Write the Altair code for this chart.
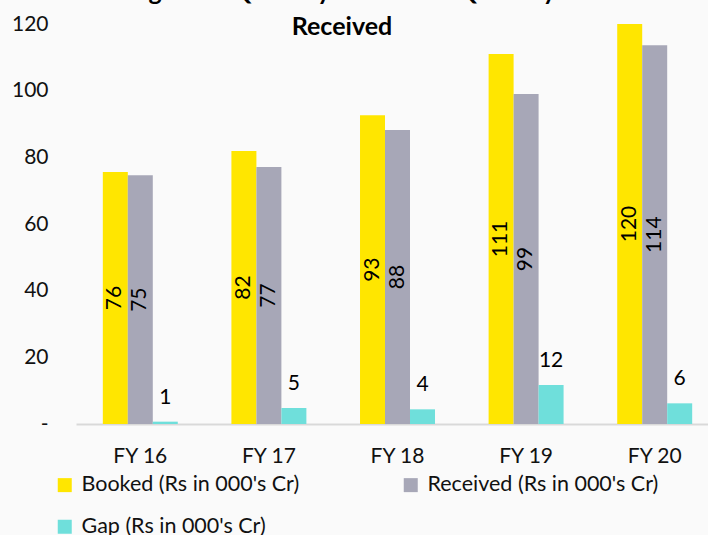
import altair as alt
import pandas as pd

years = ["FY 16", "FY 17", "FY 18", "FY 19", "FY 20"]
booked = [75.6, 81.9, 92.6, 111.0, 120.0]
received = [74.6, 77.1, 88.2, 99.0, 113.6]
gap = [0.7, 4.8, 4.4, 11.7, 6.2]
series = ["Booked (Rs in 000's Cr)", "Received (Rs in 000's Cr)", "Gap (Rs in 000's Cr)"]
colors = ["#FFE600", "#A7A7B7", "#6FDFDB"]
title_lines = ["Figure 3: Quantity Booked vs Quantity", "Received"]
y_ticks = [0, 20, 40, 60, 80, 100, 120]

rows = []
for i, yr in enumerate(years):
    for s, vals in zip(series, [booked, received, gap]):
        rows.append({"year": yr, "series": s, "value": vals[i], "half": vals[i] / 2})
df = pd.DataFrame(rows)

FONT = "Lato"
FS = 21

x_enc = alt.X("year:N", sort=years,
              scale=alt.Scale(range=[0, 643], paddingInner=0.417, paddingOuter=0.2085),
              axis=alt.Axis(title=None, labelAngle=0, ticks=False, domainColor="#D9D9D9",
                            domainWidth=2, labelFontSize=FS, labelFont=FONT,
                            labelColor="#111111", labelPadding=21))
xo_enc = alt.XOffset("series:N", sort=series, scale=alt.Scale(paddingInner=0, paddingOuter=0))

base = alt.Chart(df)

bars = base.mark_bar().encode(
    x=x_enc,
    xOffset=xo_enc,
    y=alt.Y("value:Q", scale=alt.Scale(domain=[0, 120], nice=False),
            axis=alt.Axis(title=None, values=y_ticks, grid=False, domain=False, ticks=False,
                          labelFontSize=FS, labelFont=FONT, labelColor="#111111",
                          labelPadding=28,
                          labelExpr="datum.value == 0 ? '-' : datum.label")),
    color=alt.Color("series:N", sort=series, scale=alt.Scale(domain=series, range=colors),
                    legend=alt.Legend(title=None, orient="none", legendX=-22, legendY=450,
                                      direction="horizontal", columns=2, columnPadding=100,
                                      rowPadding=19, symbolType="square", symbolSize=196,
                                      symbolStrokeWidth=0, labelFontSize=21.5, labelFont=FONT,
                                      labelColor="#111111", labelOffset=6, padding=0,
                                      labelLimit=400)),
)

rot_text = base.transform_filter(
    alt.FieldOneOfPredicate(field="series", oneOf=series[:2])
).mark_text(angle=270, align="center", baseline="middle", fontSize=FS, font=FONT,
            color="#000000").encode(
    x=alt.X("year:N", sort=years),
    xOffset=alt.XOffset("series:N", sort=series),
    y=alt.Y("half:Q"),
    text=alt.Text("value:Q", format=".0f"),
)

gap_text = base.transform_filter(
    alt.FieldEqualPredicate(field="series", equal=series[2])
).mark_text(align="center", baseline="alphabetic", dy=-18, fontSize=FS, font=FONT,
            color="#000000").encode(
    x=alt.X("year:N", sort=years),
    xOffset=alt.XOffset("series:N", sort=series),
    y=alt.Y("value:Q"),
    text=alt.Text("value:Q", format=".0f"),
)

t1 = alt.Chart(pd.DataFrame({"t": [title_lines[0]]})).mark_text(
    align="center", baseline="alphabetic", fontSize=25, fontWeight="bold", font=FONT,
    color="#000000").encode(text="t:N", x=alt.value(266), y=alt.value(-24))
t2 = alt.Chart(pd.DataFrame({"t": [title_lines[1]]})).mark_text(
    align="center", baseline="middle", fontSize=25, fontWeight="bold", font=FONT,
    color="#000000").encode(text="t:N", x=alt.value(266), y=alt.value(3))

chart = alt.layer(bars, rot_text, gap_text, t1, t2).properties(
    width=632, height=400,
    autosize=alt.AutoSizeParams(type="none"),
    padding={"left": 76, "top": 24, "right": 0, "bottom": 111},
    background="#FAFAFA",
).configure_view(stroke=None)

chart.save("out.html", embed_options={"renderer": "svg", "actions": False})
